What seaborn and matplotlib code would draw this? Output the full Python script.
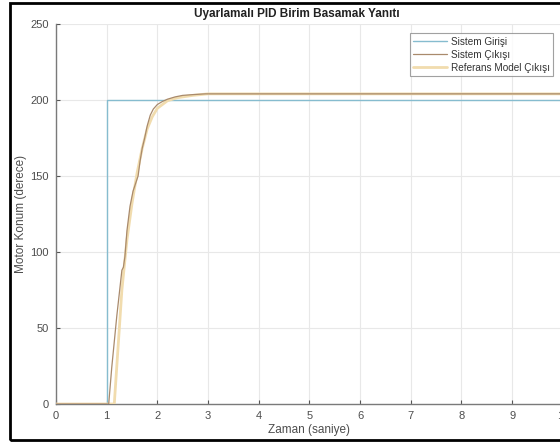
import matplotlib
matplotlib.use("Agg")
import matplotlib.pyplot as plt
import seaborn as sns
import pandas as pd
from matplotlib.patches import Rectangle

# Step input
t_input = [0.0, 1.0, 1.0, 10.0]
y_input = [0.0, 0.0, 200.0, 200.0]

# Measured system output
t_output = [0.0, 1.04, 1.10, 1.20, 1.30, 1.33, 1.36, 1.40, 1.46, 1.52, 1.58, 1.62,
            1.66, 1.70, 1.75, 1.80, 1.86, 1.92, 2.00, 2.10, 2.20, 2.35, 2.50,
            2.70, 2.95, 10.0]
y_output = [0.0, 0.0, 24.0, 58.0, 88.0, 90.0, 97.0, 114.0, 130.0, 140.0, 146.0, 150.0,
            160.0, 168.0, 175.0, 183.0, 190.0, 194.0, 197.0, 199.0, 200.5, 202.0, 203.0,
            203.5, 204.0, 204.0]

# Reference model output
t_ref = [0.0, 1.15, 1.20, 1.30, 1.40, 1.50, 1.60, 1.70, 1.80, 1.90, 2.00, 2.20,
         2.40, 2.70, 3.00, 10.0]
y_ref = [0.0, 0.0, 25.0, 75.0, 108.0, 132.0, 152.0, 168.0, 181.0, 189.0, 194.5, 199.5,
         201.5, 203.0, 204.0, 204.0]

x_ticks = list(range(0, 11))
y_ticks = [0, 50, 100, 150, 200, 250]

labels = ["Sistem Girişi", "Sistem Çıkışı", "Referans Model Çıkışı"]

sns.set_theme(style="white")
plt.rcParams["font.family"] = ["Liberation Sans", "DejaVu Sans"]

fig = plt.figure(figsize=(5.6, 4.43), dpi=100)
ax = fig.add_axes([0.1, 0.088, 0.905, 0.858])

grid_c = "#e8e8e8"
text_c = "#4d4d4d"

df_in = pd.DataFrame({"t": t_input, "y": y_input})
df_out = pd.DataFrame({"t": t_output, "y": y_output})
df_ref = pd.DataFrame({"t": t_ref, "y": y_ref})

sns.lineplot(data=df_in, x="t", y="y", ax=ax, estimator=None, sort=False,
             color="#86bccf", lw=1.0, label=labels[0])
sns.lineplot(data=df_ref, x="t", y="y", ax=ax, estimator=None, sort=False,
             color="#f1dcae", lw=2.0, label=labels[2], zorder=3)
sns.lineplot(data=df_out, x="t", y="y", ax=ax, estimator=None, sort=False,
             color="#a98a6c", lw=0.9, label=labels[1], zorder=4)

ax.set_xlim(0, 10)
ax.set_ylim(0, 250)
ax.set_xticks(x_ticks)
ax.set_yticks(y_ticks)
ax.grid(True, color=grid_c, lw=0.8)
ax.set_axisbelow(True)

for s in ["top", "right"]:
    ax.spines[s].set_visible(False)
for s in ["left", "bottom"]:
    ax.spines[s].set_color("#7a7a7a")
    ax.spines[s].set_linewidth(1.0)

ax.tick_params(axis="both", direction="in", length=3, width=0.8, color="#555555",
               labelsize=8, labelcolor=text_c, pad=5)
ax.tick_params(axis="x", bottom=True)
ax.tick_params(axis="y", left=True)

ax.set_xlabel("Zaman (saniye)", fontsize=8.5, color=text_c, labelpad=2)
ax.set_ylabel("Motor Konum (derece)", fontsize=8.5, color=text_c)
ax.yaxis.set_label_coords(-0.058, 0.5)
ax.set_title("Uyarlamalı PID Birim Basamak Yanıtı", fontsize=8.5, fontweight="bold",
             color="#222222", x=0.475, pad=5)

handles, labs = ax.get_legend_handles_labels()
order = [labs.index(l) for l in labels]
leg = ax.legend([handles[i] for i in order], [labs[i] for i in order],
                loc="upper left", bbox_to_anchor=(0.698, 0.975), fontsize=7.2,
                frameon=True, fancybox=False, edgecolor="#8a8a8a",
                handlelength=3.4, handletextpad=0.35, borderpad=0.35,
                labelspacing=0.3, borderaxespad=0)
leg.get_frame().set_linewidth(0.8)
for txt in leg.get_texts():
    txt.set_color("#333333")

# Outer frame around the figure
fig.patches.append(Rectangle((10 / 560, 3 / 443), 1.2, 437 / 443,
                             transform=fig.transFigure, fill=False,
                             edgecolor="black", lw=2.0, zorder=10))

fig.savefig("out.png", dpi=100)
